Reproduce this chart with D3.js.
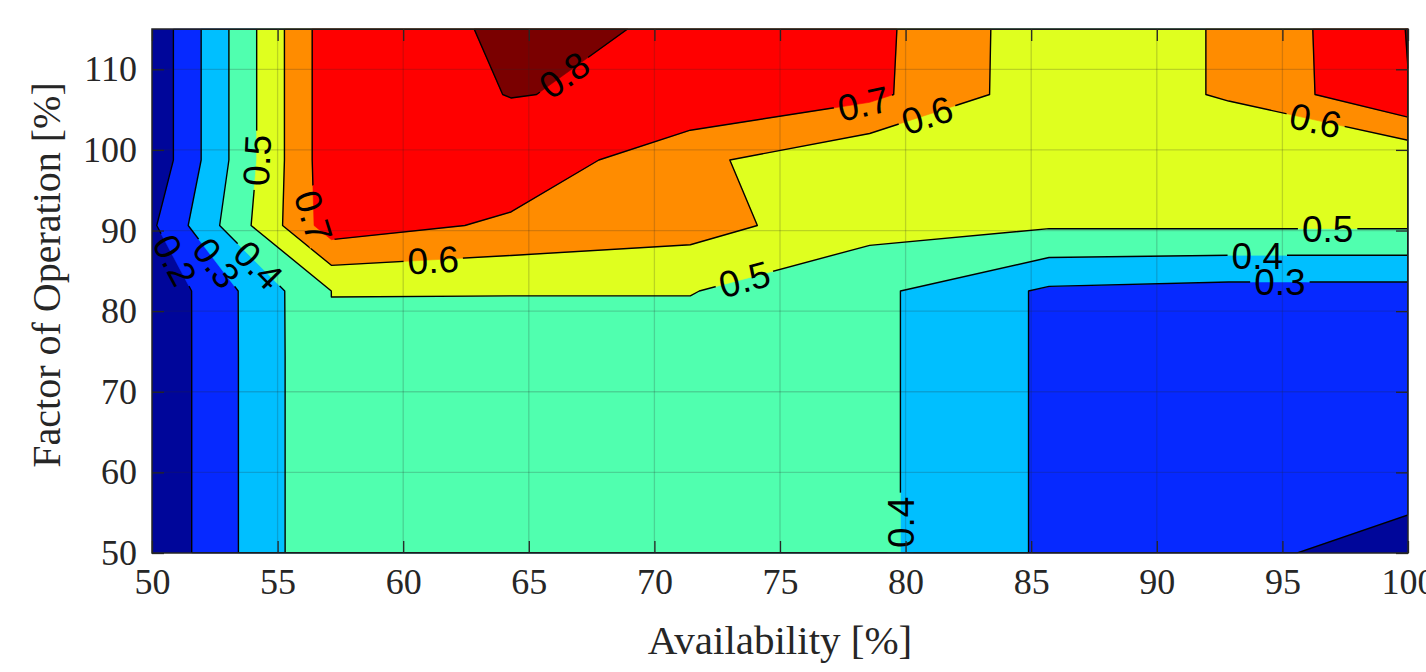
<!DOCTYPE html>
<html>
<head>
<meta charset="utf-8">
<script src="https://cdn.jsdelivr.net/npm/d3@7"></script>
<style>
  body { margin: 0; background: #fff; }
  svg { display: block; }
</style>
</head>
<body>
<div id="chart"></div>
<script>
// grid columns (availability, %) and rows (factor of operation, %)
const availability = [50, 57.14, 64.29, 71.43, 78.57, 85.71, 92.86, 100];
const factorOfOperation = [50, 58.125, 66.25, 74.375, 82.5, 90.625, 98.75, 106.875, 115];

// one row per factorOfOperation value, one entry per availability column
const row050 = [0.115, 0.499, 0.45, 0.45, 0.424, 0.284, 0.262, 0.1];
const row058 = [0.115, 0.499, 0.45, 0.45, 0.424, 0.284, 0.27, 0.272];
const row066 = [0.115, 0.499, 0.45, 0.45, 0.424, 0.284, 0.27, 0.27];
const row074 = [0.115, 0.499, 0.45, 0.45, 0.424, 0.284, 0.27, 0.27];
const row082 = [0.115, 0.5001, 0.504, 0.504, 0.424, 0.284, 0.266, 0.266];
const row090 = [0.185, 0.755, 0.681, 0.64, 0.533, 0.511, 0.512, 0.512];
const row098 = [0.123, 0.769, 0.773, 0.624, 0.515, 0.56, 0.519, 0.515];
const row106 = [0.123, 0.769, 0.8015, 0.791, 0.725, 0.538, 0.609, 0.798];
const row115 = [0.123, 0.769, 0.808, 0.7957, 0.729, 0.538, 0.609, 0.803];

const levels = [0.2, 0.3, 0.4, 0.5, 0.6, 0.7, 0.8];
const levelColors = ['#00069a', '#0629ff', '#00bfff', '#50ffaf', '#dfff1f', '#ff8c00', '#ff0000', '#7a0000'];

const xTicks = [50, 55, 60, 65, 70, 75, 80, 85, 90, 95, 100];
const yTicks = [50, 60, 70, 80, 90, 100, 110];

// contour labels: level and rough spot (availability, factor) near its line
const labelLevels = [0.8, 0.7, 0.6, 0.6, 0.5, 0.4, 0.3, 0.5, 0.6, 0.7, 0.5, 0.2, 0.3, 0.4, 0.4];
const labelAt = [
    [66.5, 108.9], [78.3, 106.1], [80.9, 103.9], [96.3, 103.4], [96.8, 90.0],
    [94.0, 86.8], [94.9, 83.3], [73.6, 83.8], [61.2, 86.1], [56.7, 91.8],
    [54.2, 98.7], [50.7, 86.0], [52.4, 85.6], [54.1, 85.3], [80.0, 53.8]
];

const W = 1426, H = 672;
const margin = { left: 152, right: 18, top: 29, bottom: 119 };

const svg = d3.select('#chart').append('svg')
    .attr('width', W)
    .attr('height', H);

const x = d3.scaleLinear().domain([50, 100]).range([margin.left, W - margin.right]);
const y = d3.scaleLinear().domain([50, 115]).range([H - margin.bottom, margin.top]);
const x0 = x.range()[0], x1 = x.range()[1], y0 = y.range()[1], y1 = y.range()[0];

// contour geometry in grid-index space -> data -> pixels
const grid = [row050, row058, row066, row074, row082, row090, row098, row106, row115];
const nx = availability.length, ny = factorOfOperation.length;
const values = [].concat(...grid);
const contours = d3.contours().size([nx, ny]).thresholds(levels)(values);

const gx = d3.scaleLinear().domain(availability.map((_, i) => i + 0.5)).range(availability).clamp(true);
const gy = d3.scaleLinear().domain(factorOfOperation.map((_, i) => i + 0.5)).range(factorOfOperation).clamp(true);
const toPx = p => [x(gx(p[0])), y(gy(p[1]))];
const ringsByLevel = contours.map(c => c.coordinates.flat().map(ring => ring.map(toPx)));
const ringPath = rings => rings.map(r => 'M' + r.join('L') + 'Z').join('');

const defs = svg.append('defs');
defs.append('clipPath').attr('id', 'plotClip')
    .append('rect').attr('x', x0).attr('y', y0).attr('width', x1 - x0).attr('height', y1 - y0);

// --- filled bands
const g_fill = svg.append('g').attr('class', 'g-fill');
g_fill.append('rect')
    .attr('x', x0).attr('y', y0).attr('width', x1 - x0).attr('height', y1 - y0)
    .attr('fill', levelColors[0]);
ringsByLevel.forEach((rings, i) => {
    g_fill.append('path')
        .attr('d', ringPath(rings))
        .attr('fill', levelColors[i + 1])
        .attr('stroke', levelColors[i + 1])
        .attr('stroke-width', 0.6);
});

// --- grid
const g_grid = svg.append('g').attr('class', 'g-grid').attr('stroke', 'rgba(38,38,38,0.2)').attr('stroke-width', 1.3);
xTicks.slice(1, -1).forEach(t => {
    g_grid.append('line').attr('x1', x(t)).attr('x2', x(t)).attr('y1', y0).attr('y2', y1);
});
yTicks.slice(1).forEach(t => {
    g_grid.append('line').attr('x1', x0).attr('x2', x1).attr('y1', y(t)).attr('y2', y(t));
});

// --- labels: snap to nearest point on the level's line, rotate along a chord
const onBorder = (a, b) =>
    (Math.abs(a[0] - x0) < 0.5 && Math.abs(b[0] - x0) < 0.5) ||
    (Math.abs(a[0] - x1) < 0.5 && Math.abs(b[0] - x1) < 0.5) ||
    (Math.abs(a[1] - y0) < 0.5 && Math.abs(b[1] - y0) < 0.5) ||
    (Math.abs(a[1] - y1) < 0.5 && Math.abs(b[1] - y1) < 0.5);

function walk(pts, start, k, dist, dir) {
    const n = pts.length;
    let cx = start[0], cy = start[1], left = dist, guard = 0;
    while (left > 0 && guard++ < 4 * n) {
        const t = pts[((k % n) + n) % n];
        const d = Math.hypot(t[0] - cx, t[1] - cy);
        if (d >= left) return [cx + (t[0] - cx) * left / d, cy + (t[1] - cy) * left / d];
        left -= d; cx = t[0]; cy = t[1]; k += dir;
    }
    return [cx, cy];
}

const g_text = svg.append('g').attr('class', 'g-labels')
    .attr('font-family', "'Liberation Sans', Arial, sans-serif")
    .attr('font-size', 37)
    .attr('fill', '#000');

const gaps = [];
labelLevels.forEach((lv, li) => {
    const target = [x(labelAt[li][0]), y(labelAt[li][1])];
    const rings = ringsByLevel[levels.indexOf(lv)];
    let best = null;
    rings.forEach(pts => {
        for (let i = 0; i < pts.length - 1; i++) {
            const a = pts[i], b = pts[i + 1];
            if (onBorder(a, b)) continue;
            const dx = b[0] - a[0], dy = b[1] - a[1];
            const len2 = dx * dx + dy * dy;
            let t = len2 ? ((target[0] - a[0]) * dx + (target[1] - a[1]) * dy) / len2 : 0;
            t = Math.max(0, Math.min(1, t));
            const p = [a[0] + t * dx, a[1] + t * dy];
            const d = Math.hypot(p[0] - target[0], p[1] - target[1]);
            if (!best || d < best.d) best = { d, p, i, pts };
        }
    });
    const half = 27;
    const fwd = walk(best.pts, best.p, best.i + 1, half, 1);
    const back = walk(best.pts, best.p, best.i, half, -1);
    let ang = Math.atan2(fwd[1] - back[1], fwd[0] - back[0]) * 180 / Math.PI;
    while (ang >= 90) ang -= 180;
    while (ang < -90) ang += 180;

    const txt = g_text.append('text')
        .attr('transform', `translate(${best.p[0]},${best.p[1]}) rotate(${ang})`)
        .attr('text-anchor', 'middle')
        .attr('dy', '0.36em')
        .text(lv.toFixed(1));
    gaps.push({ p: best.p, ang, w: txt.node().getComputedTextLength() + 8 });
});

// --- contour lines, broken under the labels
const mask = defs.append('mask').attr('id', 'gapMask')
    .attr('maskUnits', 'userSpaceOnUse')
    .attr('x', 0).attr('y', 0).attr('width', W).attr('height', H);
mask.append('rect').attr('width', W).attr('height', H).attr('fill', '#fff');
gaps.forEach(g => {
    mask.append('rect')
        .attr('x', -g.w / 2).attr('y', -13).attr('width', g.w).attr('height', 26)
        .attr('transform', `translate(${g.p[0]},${g.p[1]}) rotate(${g.ang})`)
        .attr('fill', '#000');
});

const g_lines = svg.insert('g', '.g-labels').attr('class', 'g-lines')
    .attr('clip-path', 'url(#plotClip)')
    .attr('mask', 'url(#gapMask)');
ringsByLevel.forEach(rings => {
    g_lines.append('path')
        .attr('d', ringPath(rings))
        .attr('fill', 'none')
        .attr('stroke', '#000')
        .attr('stroke-width', 1.4)
        .attr('stroke-linejoin', 'round');
});

// --- axes
const tickLen = 12;
const g_axis = svg.append('g').attr('class', 'g-axis');
const styleAxis = sel => {
    sel.select('.domain').remove();
    sel.selectAll('.tick line').attr('stroke', '#262626').attr('stroke-width', 1.3);
    sel.selectAll('.tick text')
        .attr('fill', '#262626')
        .attr('font-family', "'Liberation Serif', 'Times New Roman', serif")
        .attr('font-size', 36);
};
g_axis.append('g')
    .attr('transform', `translate(0,${y1})`)
    .call(d3.axisBottom(x).tickValues(xTicks).tickSizeInner(-tickLen).tickSizeOuter(0).tickPadding(15).tickFormat(d3.format('d')))
    .call(styleAxis);
g_axis.append('g')
    .attr('transform', `translate(0,${y0})`)
    .call(d3.axisTop(x).tickValues(xTicks).tickSizeInner(-tickLen).tickSizeOuter(0).tickFormat(''))
    .call(styleAxis);
g_axis.append('g')
    .attr('transform', `translate(${x0},0)`)
    .call(d3.axisLeft(y).tickValues(yTicks).tickSizeInner(-tickLen).tickSizeOuter(0).tickPadding(15).tickFormat(d3.format('d')))
    .call(styleAxis);
g_axis.append('g')
    .attr('transform', `translate(${x1},0)`)
    .call(d3.axisRight(y).tickValues(yTicks).tickSizeInner(-tickLen).tickSizeOuter(0).tickFormat(''))
    .call(styleAxis);

svg.append('rect')
    .attr('x', x0).attr('y', y0).attr('width', x1 - x0).attr('height', y1 - y0)
    .attr('fill', 'none').attr('stroke', '#262626').attr('stroke-width', 1.5);

// --- axis titles
svg.append('text')
    .attr('x', (x0 + x1) / 2).attr('y', 654)
    .attr('text-anchor', 'middle')
    .attr('font-family', "'Liberation Serif', 'Times New Roman', serif")
    .attr('font-size', 41)
    .attr('fill', '#262626')
    .text('Availability [%]');
svg.append('text')
    .attr('transform', `translate(60,${(y0 + y1) / 2 - 16}) rotate(-90)`)
    .attr('text-anchor', 'middle')
    .attr('font-family', "'Liberation Serif', 'Times New Roman', serif")
    .attr('font-size', 40)
    .attr('fill', '#262626')
    .text('Factor of Operation [%]');
</script>
</body>
</html>
